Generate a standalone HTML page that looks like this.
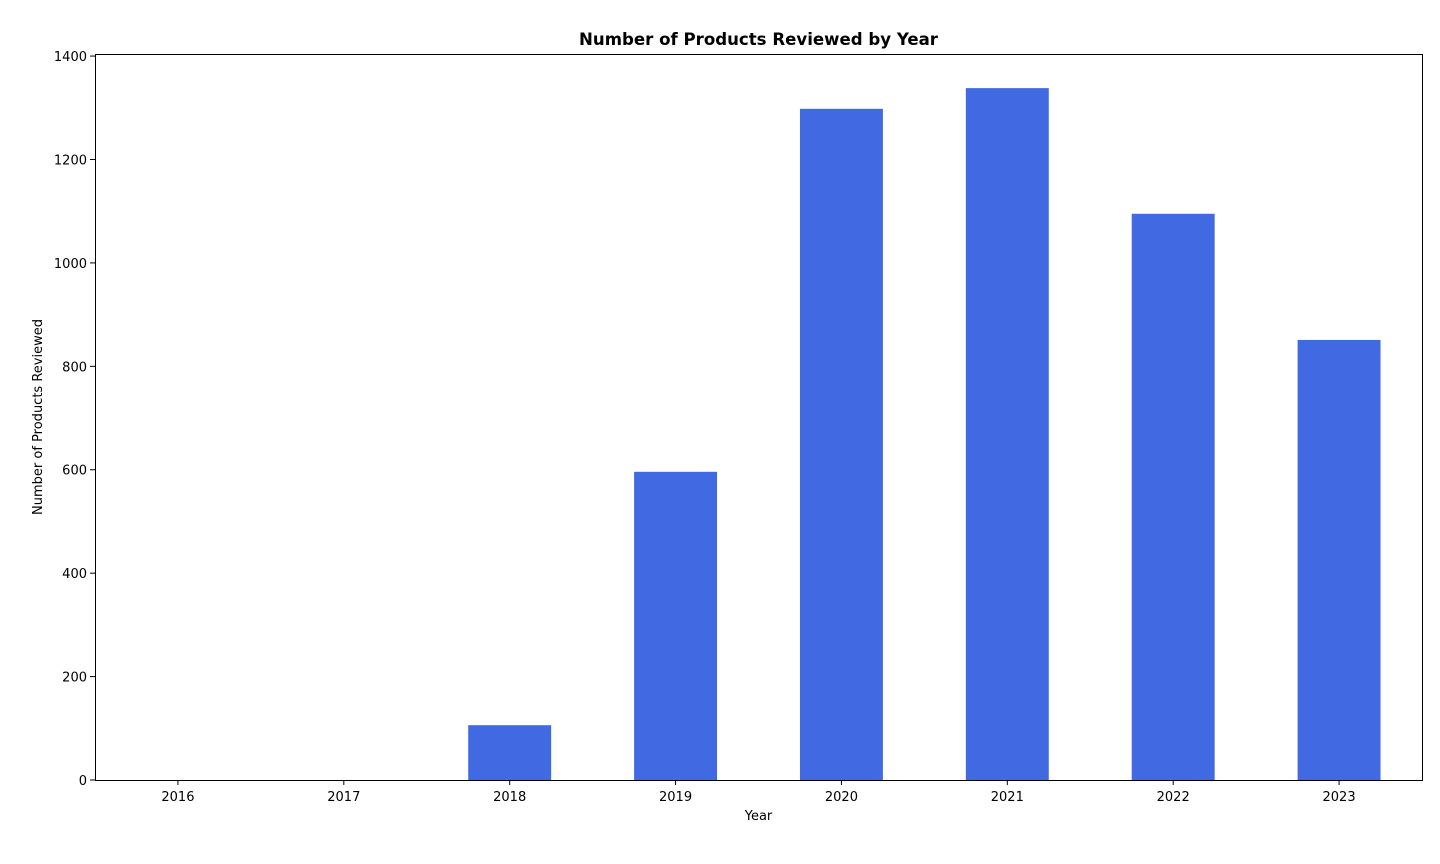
<!DOCTYPE html>
<html><head><meta charset="utf-8"><style>
html,body{margin:0;background:#fff;overflow:hidden;}
svg{display:block;}
svg text{font-family:"DejaVu Sans","Liberation Sans",sans-serif;}
</style></head><body>
<svg id="chart" width="1440" height="864" xmlns="http://www.w3.org/2000/svg">
<text x="758.5" y="45" text-anchor="middle" font-size="16.6" font-weight="bold">Number of Products Reviewed by Year</text>
<g id="bars"></g>
<g id="axes"></g>
<rect x="95.5" y="54.5" width="1327" height="726" fill="none" stroke="#000" stroke-width="1"/>
<text x="758.5" y="820" text-anchor="middle" font-size="13">Year</text>
<text transform="translate(42,417) rotate(-90)" text-anchor="middle" font-size="13">Number of Products Reviewed</text>
</svg>
<script>
const categories=["2016","2017","2018","2019","2020","2021","2022","2023"];
const values=[0,0,106,596,1298,1338,1095,851];
const yTicks=[0,200,400,600,800,1000,1200,1400];
const NS="http://www.w3.org/2000/svg";
const L=95,R=1422,T=54,B=780,yMax=1404;
const xs=i=>L+(i+0.5)*(R-L)/categories.length;
const ys=v=>B-v/yMax*(B-T);
const bw=0.5*(R-L)/categories.length;
const bars=document.getElementById('bars'),axes=document.getElementById('axes');
categories.forEach((c,i)=>{
 const r=document.createElementNS(NS,'rect');
 
 
 r.setAttribute('x',xs(i)-bw/2);r.setAttribute('width',bw);
 r.setAttribute('y',ys(values[i]));r.setAttribute('height',B-ys(values[i]));
 r.setAttribute('fill','#4169e1');bars.appendChild(r);
 const t=document.createElementNS(NS,'line');
 
 
 t.setAttribute('x1',xs(i));t.setAttribute('x2',xs(i));t.setAttribute('y1',B);t.setAttribute('y2',B+5);t.setAttribute('stroke','#000');axes.appendChild(t);
 const l=document.createElementNS(NS,'text');
 
 
 l.setAttribute('x',xs(i));l.setAttribute('y',801);l.setAttribute('text-anchor','middle');l.setAttribute('font-size','13');l.textContent=c;axes.appendChild(l);
});
yTicks.forEach(v=>{
 const t=document.createElementNS(NS,'line');
 
 
 t.setAttribute('x1',L-5);t.setAttribute('x2',L);t.setAttribute('y1',ys(v));t.setAttribute('y2',ys(v));t.setAttribute('stroke','#000');axes.appendChild(t);
 const l=document.createElementNS(NS,'text');
 
 
 l.setAttribute('x',L-8);l.setAttribute('y',ys(v)+5);l.setAttribute('text-anchor','end');l.setAttribute('font-size','13');l.textContent=v;axes.appendChild(l);
});
</script>
</body></html>
